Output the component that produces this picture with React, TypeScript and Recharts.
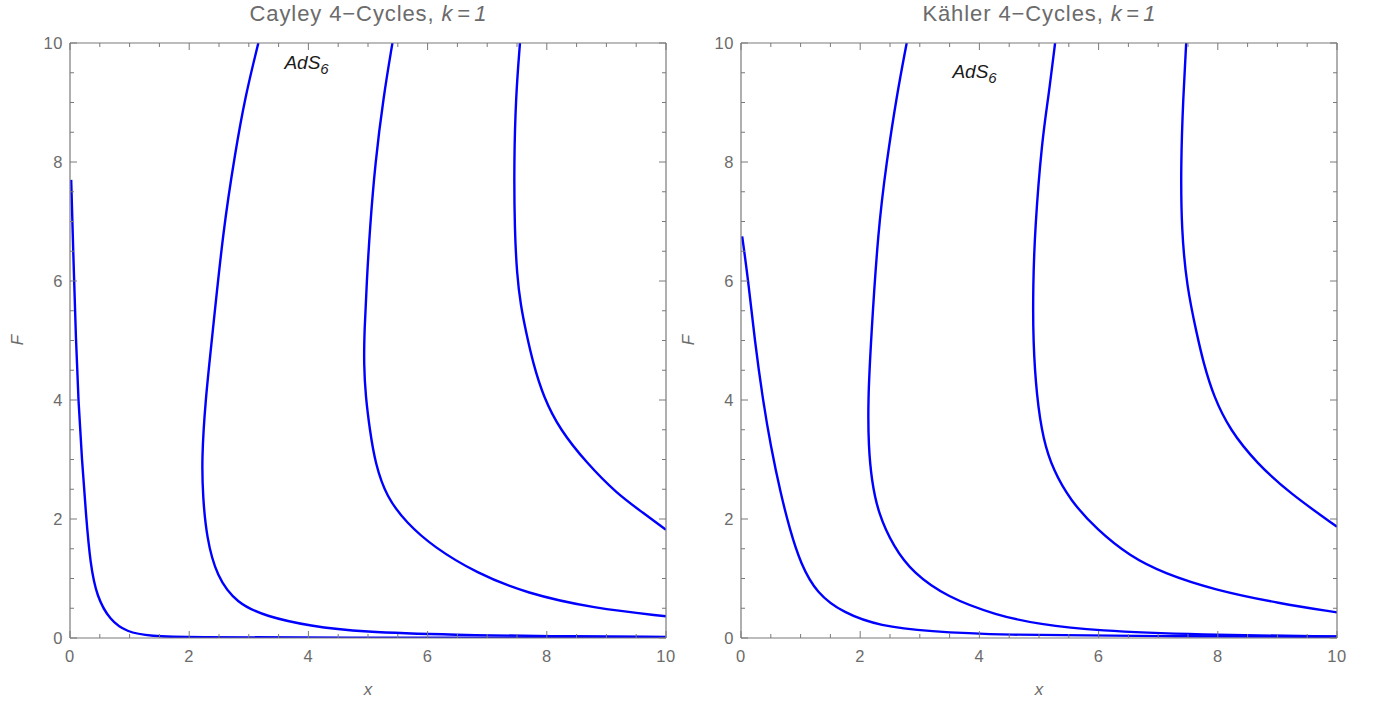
import React from 'react';
import { LineChart, Line, XAxis, YAxis, ReferenceDot } from 'recharts';

// ---- tick values ----
const TICKS = [0, 0.5, 1, 1.5, 2, 2.5, 3, 3.5, 4, 4.5, 5, 5.5, 6, 6.5, 7, 7.5, 8, 8.5, 9, 9.5, 10];
const MAJOR_TICKS = [0, 2, 4, 6, 8, 10];

// ---- Cayley 4-Cycles (left panel), points ordered by increasing F ----
const cayley1 = [
  { x: 10, F: 0.003 }, { x: 4, F: 0.006 }, { x: 2.06, F: 0.012 }, { x: 1.34, F: 0.03 },
  { x: 0.95, F: 0.1 }, { x: 0.67, F: 0.3 }, { x: 0.45, F: 0.69 }, { x: 0.34, F: 1.25 },
  { x: 0.27, F: 2.04 }, { x: 0.2, F: 3.0 }, { x: 0.14, F: 3.98 }, { x: 0.1, F: 5.0 },
  { x: 0.06, F: 6.3 }, { x: 0.02, F: 7.7 },
];
const cayley2 = [
  { x: 10, F: 0.018 }, { x: 8, F: 0.03 }, { x: 6.5, F: 0.05 }, { x: 4.87, F: 0.1 },
  { x: 4.03, F: 0.2 }, { x: 3.3, F: 0.36 }, { x: 2.8, F: 0.58 }, { x: 2.46, F: 1.03 },
  { x: 2.29, F: 1.7 }, { x: 2.23, F: 2.37 }, { x: 2.21, F: 3.0 }, { x: 2.27, F: 3.98 },
  { x: 2.38, F: 5.0 }, { x: 2.57, F: 6.86 }, { x: 2.77, F: 8.15 }, { x: 2.94, F: 9.1 },
  { x: 3.16, F: 10 },
];
const cayley3 = [
  { x: 10, F: 0.365 }, { x: 8.78, F: 0.5 }, { x: 7.66, F: 0.75 }, { x: 6.82, F: 1.09 },
  { x: 6.1, F: 1.53 }, { x: 5.65, F: 1.93 }, { x: 5.31, F: 2.37 }, { x: 5.12, F: 2.94 },
  { x: 5.03, F: 3.5 }, { x: 4.96, F: 4.06 }, { x: 4.93, F: 4.6 }, { x: 4.94, F: 5.17 },
  { x: 4.98, F: 6.0 }, { x: 5.03, F: 6.86 }, { x: 5.12, F: 7.98 }, { x: 5.26, F: 9.1 },
  { x: 5.41, F: 10 },
];
const cayley4 = [
  { x: 10, F: 1.82 }, { x: 9.62, F: 2.1 }, { x: 9.17, F: 2.43 }, { x: 8.67, F: 2.94 },
  { x: 8.22, F: 3.5 }, { x: 7.94, F: 4.06 }, { x: 7.77, F: 4.62 }, { x: 7.66, F: 5.1 },
  { x: 7.56, F: 5.6 }, { x: 7.5, F: 6.1 }, { x: 7.46, F: 6.86 }, { x: 7.45, F: 7.98 },
  { x: 7.48, F: 9.1 }, { x: 7.55, F: 10 },
];

// ---- Kähler 4-Cycles (right panel) ----
const kahler1 = [
  { x: 10, F: 0.02 }, { x: 7, F: 0.03 }, { x: 4.29, F: 0.05 }, { x: 3.17, F: 0.11 },
  { x: 2.33, F: 0.2 }, { x: 1.72, F: 0.42 }, { x: 1.27, F: 0.75 }, { x: 1.0, F: 1.25 },
  { x: 0.82, F: 1.82 }, { x: 0.66, F: 2.45 }, { x: 0.5, F: 3.22 }, { x: 0.37, F: 3.98 },
  { x: 0.23, F: 5.0 }, { x: 0.12, F: 6.02 }, { x: 0.02, F: 6.75 },
];
const kahler2 = [
  { x: 10, F: 0.025 }, { x: 7.65, F: 0.055 }, { x: 5.97, F: 0.12 }, { x: 5.0, F: 0.23 },
  { x: 4.29, F: 0.38 }, { x: 3.45, F: 0.69 }, { x: 2.89, F: 1.09 }, { x: 2.56, F: 1.53 },
  { x: 2.3, F: 2.1 }, { x: 2.19, F: 2.66 }, { x: 2.14, F: 3.22 }, { x: 2.13, F: 3.98 },
  { x: 2.18, F: 5.0 }, { x: 2.3, F: 6.86 }, { x: 2.44, F: 7.98 }, { x: 2.61, F: 9.1 },
  { x: 2.78, F: 10 },
];
const kahler3 = [
  { x: 10, F: 0.43 }, { x: 9.04, F: 0.58 }, { x: 7.93, F: 0.81 }, { x: 7.09, F: 1.09 },
  { x: 6.53, F: 1.37 }, { x: 5.97, F: 1.82 }, { x: 5.52, F: 2.32 }, { x: 5.24, F: 2.82 },
  { x: 5.07, F: 3.33 }, { x: 4.96, F: 4.06 }, { x: 4.9, F: 5.0 }, { x: 4.9, F: 5.9 },
  { x: 4.93, F: 6.86 }, { x: 5.05, F: 8.37 }, { x: 5.16, F: 9.1 }, { x: 5.27, F: 10 },
];
const kahler4 = [
  { x: 10, F: 1.87 }, { x: 9.21, F: 2.43 }, { x: 8.65, F: 2.94 }, { x: 8.2, F: 3.5 },
  { x: 7.93, F: 4.06 }, { x: 7.76, F: 4.62 }, { x: 7.65, F: 5.1 }, { x: 7.48, F: 5.9 },
  { x: 7.39, F: 6.86 }, { x: 7.38, F: 7.98 }, { x: 7.42, F: 9.1 }, { x: 7.47, F: 10 },
];

const LABEL_POS_CAYLEY = { x: 4.0, F: 9.66 };
const LABEL_POS_KAHLER = { x: 3.95, F: 9.52 };

const FONT = '"Liberation Sans", Arial, sans-serif';
const AXIS_COLOR = '#7a7a7a';
const TEXT_COLOR = '#6b6b6b';
const CURVE_COLOR = '#0000ff';

type Side = 'bottom' | 'top' | 'left' | 'right';

function makeTick(side: Side, showLabel: boolean) {
  return (props: any) => {
    const { x, y, payload } = props;
    const v = payload.value;
    const major = MAJOR_TICKS.includes(v);
    const len = major ? 7 : 4;
    let line: any = null;
    let label: any = null;
    if (side === 'bottom') {
      line = <line x1={x} y1={y} x2={x} y2={y - len} stroke={AXIS_COLOR} strokeWidth={1} />;
      if (showLabel && major)
        label = (
          <text x={x} y={y + 24} textAnchor="middle" fontSize={16.5} letterSpacing={0.6} fill={TEXT_COLOR} fontFamily={FONT}>
            {String(v)}
          </text>
        );
    } else if (side === 'top') {
      line = <line x1={x} y1={y} x2={x} y2={y + len} stroke={AXIS_COLOR} strokeWidth={1} />;
    } else if (side === 'left') {
      line = <line x1={x} y1={y} x2={x + len} y2={y} stroke={AXIS_COLOR} strokeWidth={1} />;
      if (showLabel && major)
        label = (
          <text x={x - 7} y={y + 6} textAnchor="end" fontSize={16.5} letterSpacing={0.6} fill={TEXT_COLOR} fontFamily={FONT}>
            {String(v)}
          </text>
        );
    } else {
      line = <line x1={x} y1={y} x2={x - len} y2={y} stroke={AXIS_COLOR} strokeWidth={1} />;
    }
    return (
      <g>
        {line}
        {label}
      </g>
    );
  };
}

const AdsLabel = (props: any) => {
  const vb = props.viewBox || {};
  const cx = (vb.x ?? 0) + (vb.width ?? 0) / 2;
  const cy = (vb.y ?? 0) + (vb.height ?? 0) / 2;
  return (
    <text x={cx - 24} y={cy + 6} fontSize={19} fontStyle="italic" fill="#1a1a1a" fontFamily={FONT}>
      AdS
      <tspan dy={5} fontSize={15}>6</tspan>
    </text>
  );
};

type PanelProps = {
  left: number;
  title: string;
  curves: { x: number; F: number }[][];
  labelPos: { x: number; F: number };
};

const Panel = ({ left, title, curves, labelPos }: PanelProps) => {
  const W = 690;
  const H = 704;
  return (
    <div style={{ position: 'absolute', left, top: 0, width: W, height: H }}>
      <div
        style={{
          position: 'absolute',
          left: 70,
          width: 596,
          top: 1,
          textAlign: 'center',
          fontFamily: FONT,
          fontSize: 22,
          color: TEXT_COLOR,
          whiteSpace: 'nowrap',
        }}
      >
        <span style={{ letterSpacing: 0.9 }}>{title}</span>
        <span style={{ fontStyle: 'italic' }}>{'k\u2009=\u20091'}</span>
      </div>
      <div
        style={{
          position: 'absolute',
          left: 70,
          width: 596,
          top: 680,
          textAlign: 'center',
          fontFamily: FONT,
          fontSize: 17,
          fontStyle: 'italic',
          color: TEXT_COLOR,
        }}
      >
        x
      </div>
      <div
        style={{
          position: 'absolute',
          left: 8,
          top: 330,
          width: 20,
          height: 20,
          textAlign: 'center',
          lineHeight: '20px',
          fontFamily: FONT,
          fontSize: 17,
          fontStyle: 'italic',
          color: TEXT_COLOR,
          transform: 'rotate(-90deg)',
        }}
      >
        F
      </div>
      <div style={{ position: 'absolute', left: 0, top: 0 }}>
        <LineChart width={W} height={H} margin={{ top: 33, right: 14, bottom: 36, left: 30 }}>
          <XAxis
            xAxisId="b"
            orientation="bottom"
            type="number"
            dataKey="x"
            domain={[0, 10]}
            allowDataOverflow
            ticks={TICKS}
            interval={0}
            tickSize={0}
            tickMargin={0}
            tickLine={false}
            tick={makeTick('bottom', true)}
            axisLine={{ stroke: AXIS_COLOR, strokeWidth: 1.2 }}
            height={30}
          />
          <XAxis
            xAxisId="t"
            orientation="top"
            type="number"
            dataKey="x"
            domain={[0, 10]}
            allowDataOverflow
            ticks={TICKS}
            interval={0}
            tickSize={0}
            tickMargin={0}
            tickLine={false}
            tick={makeTick('top', false)}
            axisLine={{ stroke: AXIS_COLOR, strokeWidth: 1.2 }}
            height={10}
          />
          <YAxis
            yAxisId="l"
            orientation="left"
            type="number"
            dataKey="F"
            domain={[0, 10]}
            allowDataOverflow
            ticks={TICKS}
            interval={0}
            tickSize={0}
            tickMargin={0}
            tickLine={false}
            tick={makeTick('left', true)}
            axisLine={{ stroke: AXIS_COLOR, strokeWidth: 1.2 }}
            width={40}
          />
          <YAxis
            yAxisId="r"
            orientation="right"
            type="number"
            dataKey="F"
            domain={[0, 10]}
            allowDataOverflow
            ticks={TICKS}
            interval={0}
            tickSize={0}
            tickMargin={0}
            tickLine={false}
            tick={makeTick('right', false)}
            axisLine={{ stroke: AXIS_COLOR, strokeWidth: 1.2 }}
            width={10}
          />
          {curves.map((c, i) => (
            <Line
              key={i}
              xAxisId="b"
              yAxisId="l"
              data={c}
              dataKey="F"
              type="basis"
              stroke={CURVE_COLOR}
              strokeWidth={2.4}
              dot={false}
              activeDot={false}
              isAnimationActive={false}
            />
          ))}
          <ReferenceDot
            xAxisId="b"
            yAxisId="l"
            x={labelPos.x}
            y={labelPos.F}
            r={0}
            fill="none"
            stroke="none"
            label={<AdsLabel />}
          />
        </LineChart>
      </div>
    </div>
  );
};

export default function App() {
  return (
    <div style={{ position: 'absolute', left: 0, top: 0, width: 1376, height: 704, background: '#fff' }}>
      <Panel left={0} title={'Cayley 4\u2212Cycles, '} curves={[cayley1, cayley2, cayley3, cayley4]} labelPos={LABEL_POS_CAYLEY} />
      <Panel left={671} title={'K\u00e4hler 4\u2212Cycles, '} curves={[kahler1, kahler2, kahler3, kahler4]} labelPos={LABEL_POS_KAHLER} />
    </div>
  );
}
